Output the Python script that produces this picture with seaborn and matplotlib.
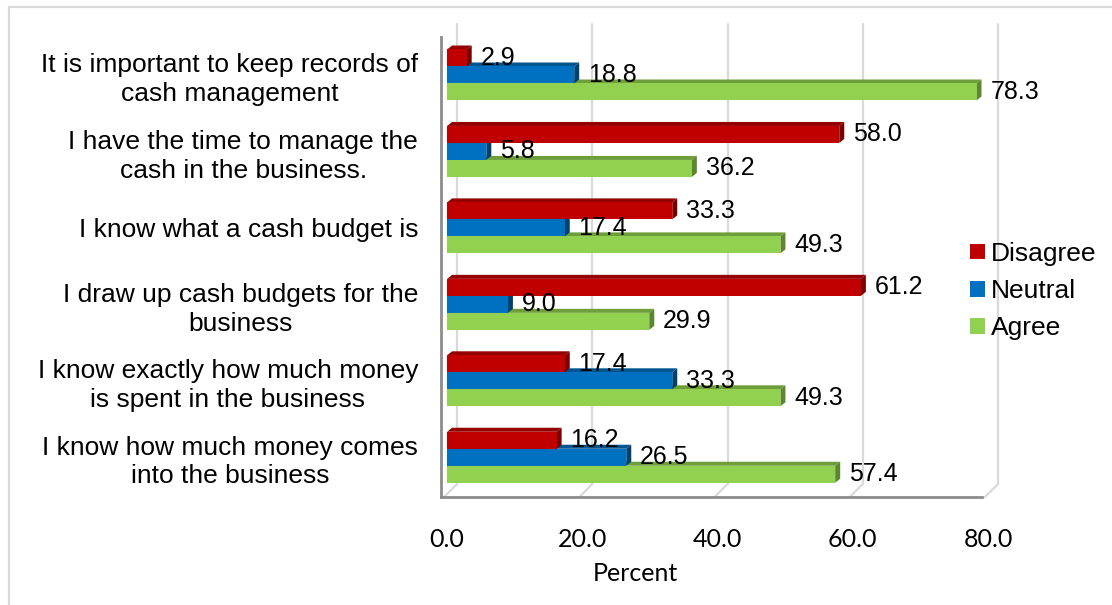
import numpy as np
import pandas as pd
import matplotlib
matplotlib.use("Agg")
import matplotlib.pyplot as plt
import seaborn as sns
from matplotlib.patches import Polygon, Rectangle, Patch
from matplotlib.lines import Line2D
from matplotlib.transforms import IdentityTransform

# ---------------- data ----------------
categories = [
    "It is important to keep records of\ncash management",
    "I have the time to manage the\ncash in the business.",
    "I know what a cash budget is",
    "I draw up cash budgets for the\nbusiness",
    "I know exactly how much money\nis spent in the business",
    "I know how much money comes\ninto the business",
]
responses = ["Disagree", "Neutral", "Agree"]
disagree = [2.9, 58.0, 33.3, 61.2, 17.4, 16.2]
neutral = [18.8, 5.8, 17.4, 9.0, 33.3, 26.5]
agree = [78.3, 36.2, 49.3, 29.9, 49.3, 57.4]
x_ticks = [0, 20, 40, 60, 80]
x_label = "Percent"

colors = {"Disagree": "#C00000", "Neutral": "#0070C0", "Agree": "#92D050"}
top_colors = {"Disagree": "#950000", "Neutral": "#00558F", "Agree": "#6E9E3A"}
side_colors = {"Disagree": "#7A0000", "Neutral": "#00426F", "Agree": "#5C8730"}

df = pd.DataFrame({
    "category": categories * 3,
    "response": [r for r in responses for _ in categories],
    "value": disagree + neutral + agree,
})

# ---------------- style ----------------
sns.set_theme(style="white")
plt.rcParams["font.family"] = ["Liberation Sans", "DejaVu Sans"]
plt.rcParams["text.color"] = "black"
plt.rcParams["xtick.color"] = "black"
plt.rcParams["ytick.color"] = "black"
plt.rcParams["axes.labelcolor"] = "black"

W, H = 1112, 605
fig = plt.figure(figsize=(W / 100, H / 100), dpi=100)
fig.patch.set_facecolor("white")

# outer light frame
fig.patches.append(Rectangle((9 / W, -0.05), 1.2, (H - 7) / H + 0.05,
                             transform=fig.transFigure, fill=False,
                             edgecolor="#D9D9D9", linewidth=1.6))

ax_left, ax_right, ax_top, ax_bot = 441, 988, 37, 497
ax = fig.add_axes([ax_left / W, 1 - ax_bot / H, (ax_right - ax_left) / W, (ax_bot - ax_top) / H])

sns.barplot(data=df, x="value", y="category", hue="response", order=categories,
            hue_order=responses, palette=colors, orient="h", width=0.667,
            linewidth=0, saturation=1, ax=ax, legend=False)

ax.set_xlim(-0.9, 80)
ax.set_ylim(5.52, -0.497)
ax.set_xticks(x_ticks)
ax.set_xticklabels([f"{v:.1f}" for v in x_ticks], fontfamily="Lato", fontsize=18, color="black")
ax.tick_params(axis="x", length=0, pad=22)
ax.tick_params(axis="y", length=0, pad=16.5, labelsize=19, labelcolor="black")
for lbl in ax.get_yticklabels():
    lbl.set_multialignment("center")
    lbl.set_linespacing(1.25)
ax.set_ylabel("")
ax.set_xlabel(x_label, fontfamily="Lato", fontsize=18, color="black")
ax.xaxis.set_label_coords(0.355, -0.141)
ax.xaxis.label.set_va("top")

for s in ["top", "right"]:
    ax.spines[s].set_visible(False)
for s in ["left", "bottom"]:
    ax.spines[s].set_color("#8C8C8C")
    ax.spines[s].set_linewidth(2)
ax.spines["bottom"].set_bounds(-0.9, 79.1)
ax.set_facecolor("none")
ax.grid(False)

# z-orders: lower bars first so upper bars hide their depth faces
zfront = {"Agree": 3.1, "Neutral": 3.2, "Disagree": 3.3}
for resp, cont in zip(responses, ax.containers):
    for bar in cont:
        bar.set_zorder(zfront[resp])

fig.canvas.draw()

idt = IdentityTransform()
dx, dy = 5, 4
for resp, cont in zip(responses, ax.containers):
    for bar in cont:
        bb = bar.get_window_extent()
        x0, y0, x1, y1 = bb.x0, bb.y0, bb.x1, bb.y1
        top = Polygon([(x0, y1), (x1, y1), (x1 + dx, y1 + dy), (x0 + dx, y1 + dy)],
                      closed=True, transform=idt, facecolor=top_colors[resp],
                      edgecolor="none", zorder=zfront[resp] - 0.05, clip_on=False)
        side = Polygon([(x1, y0), (x1 + dx, y0 + dy), (x1 + dx, y1 + dy), (x1, y1)],
                       closed=True, transform=idt, facecolor=side_colors[resp],
                       edgecolor="none", zorder=zfront[resp] - 0.04, clip_on=False)
        ax.add_artist(top)
        ax.add_artist(side)
    ax.bar_label(cont, fmt="%.1f", padding=10, fontsize=18, zorder=6, color="black")

# back wall gridlines and floor diagonals (3-D look)
gdx, gdy = 10, 13
xt = ax.get_xaxis_transform()
y_bot_disp = xt.transform((0, 0))[1]
y_top_disp = xt.transform((0, 1))[1]
for v in x_ticks:
    xd = xt.transform((v, 0))[0]
    ax.add_artist(Line2D([xd + gdx, xd + gdx], [y_bot_disp + gdy, y_top_disp + gdy],
                         transform=idt, color="#D9D9D9", lw=1.6, zorder=1, clip_on=False))
    ax.add_artist(Line2D([xd - 3, xd + gdx], [y_bot_disp, y_bot_disp + gdy],
                         transform=idt, color="#D9D9D9", lw=1.6, zorder=1, clip_on=False))

# legend
handles = [Patch(facecolor=colors[r], edgecolor="none", label=r) for r in responses]
leg = fig.legend(handles=handles, loc="center left", bbox_to_anchor=(970 / W, 1 - 291 / H),
                 frameon=False, fontsize=19, handlelength=0.55, handleheight=0.55,
                 handletextpad=0.25, labelspacing=0.5, borderaxespad=0, borderpad=0)
for t in leg.get_texts():
    t.set_color("black")

fig.savefig("out.png", dpi=100)
